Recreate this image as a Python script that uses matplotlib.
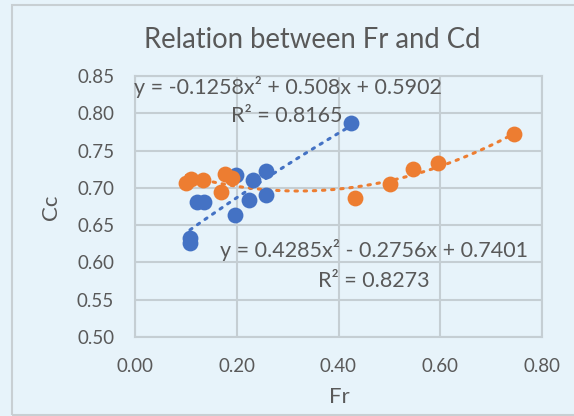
import numpy as np
import matplotlib
matplotlib.use("Agg")
import matplotlib.pyplot as plt

# Data
blue_x = [0.108, 0.108, 0.122, 0.135, 0.196, 0.199, 0.225, 0.232, 0.258, 0.258, 0.425]
blue_y = [0.633, 0.626, 0.681, 0.681, 0.664, 0.717, 0.684, 0.711, 0.723, 0.691, 0.787]
orange_x = [0.101, 0.111, 0.134, 0.170, 0.176, 0.190, 0.433, 0.501, 0.546, 0.595, 0.744]
orange_y = [0.706, 0.712, 0.711, 0.695, 0.718, 0.713, 0.687, 0.705, 0.725, 0.733, 0.772]
blue_coef = [-0.1258, 0.508, 0.5902]
orange_coef = [0.4285, -0.2756, 0.7401]
blue_eq = "y = -0.1258x² + 0.508x + 0.5902"
blue_r2 = "R² = 0.8165"
orange_eq = "y = 0.4285x² - 0.2756x + 0.7401"
orange_r2 = "R² = 0.8273"
title = "Relation between Fr and Cd"
xlabel = "Fr"
ylabel = "Cc"
xticks = [0.0, 0.2, 0.4, 0.6, 0.8]
yticks = [0.50, 0.55, 0.60, 0.65, 0.70, 0.75, 0.80, 0.85]

BG = "#E7F3FA"
GRID = "#C5CED3"
TXT = "#595959"
BLUE = "#4472C4"
ORANGE = "#ED7D31"

plt.rcParams['font.family'] = ['Lato', 'DejaVu Sans']

fig = plt.figure(figsize=(5.74, 4.16), dpi=100, facecolor=BG)
# outer chart border
fig.patches.append(matplotlib.patches.Rectangle((12/574, 1-415/416), 570/574, 410/416,
                   transform=fig.transFigure, fill=False, edgecolor="#C8CFD3", lw=1.5))
ax = fig.add_axes([135/574, 1-337/416, (542-135)/574, (337-76)/416])
ax.set_facecolor(BG)
ax.set_xlim(0, 0.8)
ax.set_ylim(0.5, 0.85)
ax.set_xticks(xticks)
ax.set_yticks(yticks)
ax.set_xticklabels([f"{v:.2f}" for v in xticks])
ax.set_yticklabels([f"{v:.2f}" for v in yticks])
ax.grid(True, color=GRID, lw=1.5)
ax.set_axisbelow(True)
for s in ax.spines.values():
    s.set_color(GRID)
    s.set_linewidth(1.5)
ax.tick_params(length=0, labelsize=13.5, colors=TXT)
ax.tick_params(axis='y', pad=15)
ax.tick_params(axis='x', pad=15)

ax.scatter(blue_x, blue_y, s=130, color=BLUE, zorder=3, linewidths=0)
ax.scatter(orange_x, orange_y, s=130, color=ORANGE, zorder=4, linewidths=0)

bx = np.linspace(min(blue_x), max(blue_x), 100)
ax.plot(bx, np.polyval(blue_coef, bx), color=BLUE, lw=2.2, linestyle=(0, (0.8, 2.2)),
        dash_capstyle='round', zorder=2.5)
ox = np.linspace(min(orange_x), max(orange_x), 100)
ax.plot(ox, np.polyval(orange_coef, ox), color=ORANGE, lw=2.2, linestyle=(0, (0.8, 2.2)),
        dash_capstyle='round', zorder=2.6)

fig.text(312/574, 1-40/416, title, ha='center', va='center', fontsize=19.8, color=TXT)
fig.text(339/574, 1-397/416, xlabel, ha='center', va='center', fontsize=16, color=TXT)
fig.text(51/574, 1-207/416, ylabel, ha='center', va='center', fontsize=16, color=TXT, rotation=90)

fs = 15.5
fig.text(288/574, 1-87/416, blue_eq, ha='center', va='center', fontsize=fs, color=TXT, zorder=5)
fig.text(287/574, 1-116/416, blue_r2, ha='center', va='center', fontsize=fs, color=TXT, zorder=5)
fig.text(374/574, 1-250/416, orange_eq, ha='center', va='center', fontsize=fs, color=TXT, zorder=5)
fig.text(374/574, 1-281/416, orange_r2, ha='center', va='center', fontsize=fs, color=TXT, zorder=5)

fig.savefig("out.png", dpi=100, facecolor=BG)
